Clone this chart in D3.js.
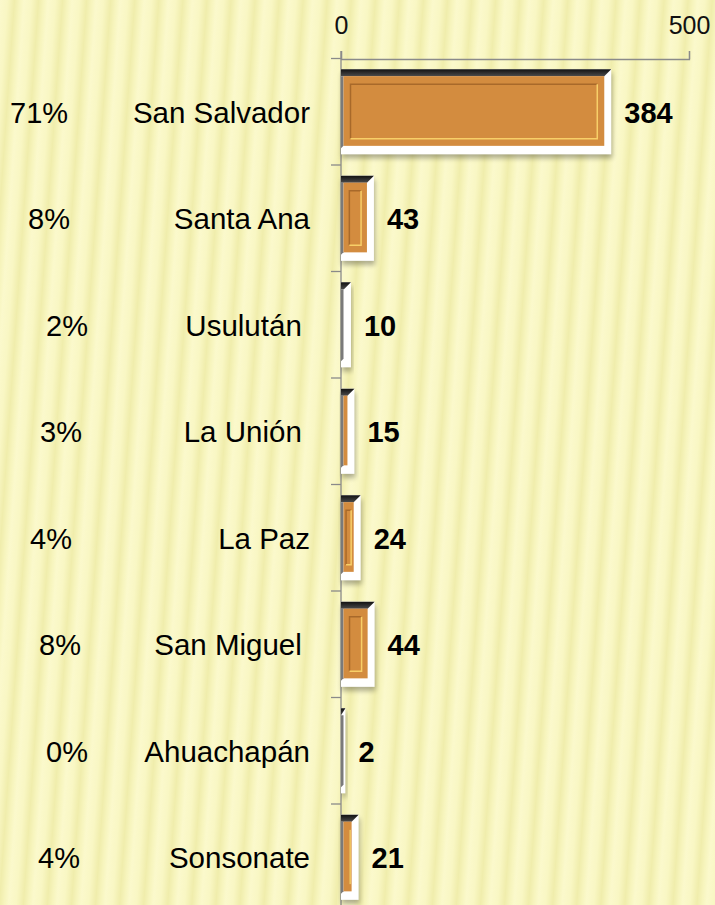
<!DOCTYPE html>
<html>
<head>
<meta charset="utf-8">
<script src="https://cdn.jsdelivr.net/npm/d3@7"></script>
<style>
  html, body { margin: 0; padding: 0; background: #f7f5bc; }
  svg { display: block; font-family: "Liberation Sans", Arial, sans-serif; }
  text { white-space: pre; }
</style>
</head>
<body>
<div id="chart"></div>
<script>
// departamentos, top to bottom
var categories = ["San Salvador", "Santa Ana", "Usulután ", "La Unión ", "La Paz", "San Miguel ", "Ahuachapán", "Sonsonate"];
var values = [384, 43, 10, 15, 24, 44, 2, 21];
var percents = ["71%", "8%", "2%", "3%", "4%", "8%", "0%", "4%"];
var xTicks = [0, 500];
// left edge of each percent label (they sit loose on the slide)
var pctX = [10, 28, 46, 40, 30, 39, 46, 38];

var W = 715, H = 905;

var svg = d3.select("#chart")
  .append("svg")
  .attr("width", W)
  .attr("height", H);

var defs = svg.append("defs");

// striped background
var grad = defs.append("linearGradient")
  .attr("id", "stripeGrad")
  .attr("x1", "0").attr("x2", "1").attr("y1", "0").attr("y2", "0");
grad.append("stop").attr("offset", "0%").attr("stop-color", "#fbf9cc");
grad.append("stop").attr("offset", "30%").attr("stop-color", "#f9f7c4");
grad.append("stop").attr("offset", "60%").attr("stop-color", "#f0edac");
grad.append("stop").attr("offset", "82%").attr("stop-color", "#f7f5be");
grad.append("stop").attr("offset", "100%").attr("stop-color", "#fbf9cc");

var pat = defs.append("pattern")
  .attr("id", "stripes")
  .attr("patternUnits", "userSpaceOnUse")
  .attr("width", 24).attr("height", 40)
  .attr("patternTransform", "rotate(4)");
pat.append("rect").attr("width", 24).attr("height", 40).attr("fill", "url(#stripeGrad)");

svg.append("rect")
  .attr("x", -50).attr("y", -50)
  .attr("width", W + 100).attr("height", H + 100)
  .attr("fill", "url(#stripes)");

var topGrad = defs.append("linearGradient")
  .attr("id", "topGrad").attr("x1", 0).attr("x2", 0).attr("y1", 0).attr("y2", 1);
topGrad.append("stop").attr("offset", "0%").attr("stop-color", "#111");
topGrad.append("stop").attr("offset", "100%").attr("stop-color", "#4a4a4a");

var shadow = defs.append("filter").attr("id", "shadow")
  .attr("x", "-20%").attr("y", "-20%").attr("width", "140%").attr("height", "150%");
shadow.append("feGaussianBlur").attr("stdDeviation", 2.5);

// scales
var x = d3.scaleLinear()
  .domain([0, 500])
  .range([341, 689]);

var y = d3.scaleBand()
  .domain(categories)
  .range([58.5, 910.5])
  .paddingInner(0.2)
  .paddingOuter(0.1);

var bw = y.bandwidth();

// x axis on top
var xAxis = svg.append("g")
  .attr("transform", "translate(0,59)")
  .call(d3.axisTop(x).tickValues(xTicks).tickSize(8).tickPadding(17));
xAxis.selectAll("path, line").attr("stroke", "#8a8a8a").attr("stroke-width", 1.3);
xAxis.selectAll("text")
  .attr("fill", "#111")
  .style("font-size", "25px")
  .style("font-family", "'Liberation Sans', Arial, sans-serif");

// y axis: line + ticks between bands
var yAxis = svg.append("g");
yAxis.append("line")
  .attr("x1", x(0)).attr("x2", x(0))
  .attr("y1", 51).attr("y2", H + 10)
  .attr("stroke", "#8a8a8a").attr("stroke-width", 1.3);
var bounds = categories.map(function(c) { return y(c) - y.step() * y.paddingInner() / 2; });
bounds.push(bounds[bounds.length - 1] + y.step());
yAxis.selectAll(".tk")
  .data(bounds)
  .enter()
  .append("line")
  .attr("x1", x(0) - 10).attr("x2", x(0))
  .attr("y1", function(d) { return d; })
  .attr("y2", function(d) { return d; })
  .attr("stroke", "#8a8a8a").attr("stroke-width", 1.3);

// bars
var data = categories.map(function(c, i) {
  return { cat: c, value: values[i], pct: percents[i], px: pctX[i] };
});

var bars = svg.selectAll(".bar")
  .data(data)
  .enter()
  .append("g")
  .attr("class", "bar");

bars.each(function(d) {
  var g = d3.select(this);
  var x0 = x(0), x1 = x(d.value) + 3;
  var y0 = y(d.cat), y1 = y0 + bw;
  var edge = 7, bot = 8.5, lft = 2.5;

  // drop shadow
  g.append("rect")
    .attr("x", x0 + 1).attr("y", y0 + 4)
    .attr("width", Math.max(x1 - x0, 1)).attr("height", bw)
    .attr("fill", "#000").attr("opacity", 0.3)
    .attr("filter", "url(#shadow)");

  // white bevel base
  g.append("rect")
    .attr("x", x0).attr("y", y0)
    .attr("width", x1 - x0).attr("height", bw)
    .attr("fill", "#ffffff");

  // dark top edge
  var te = Math.min(edge, x1 - x0);
  g.append("polygon")
    .attr("points", [[x0, y0], [x1, y0], [x1 - te, y0 + edge], [x0, y0 + edge]].join(" "))
    .attr("fill", "url(#topGrad)");

  // grey left edge
  g.append("polygon")
    .attr("points", [[x0, y0 + edge], [x0 + lft, y0 + edge], [x0 + lft, y1 - bot], [x0, y1 - bot + lft]].join(" "))
    .attr("fill", "#7a7a7a");

  // orange face
  var fw = x1 - edge - (x0 + lft);
  if (fw > 0.5) {
    g.append("rect")
      .attr("x", x0 + lft).attr("y", y0 + edge)
      .attr("width", fw).attr("height", bw - edge - bot)
      .attr("fill", "#d38c3f");
    if (fw > 4) {
      var ins = Math.min(7, fw / 4);
      var fx0 = x0 + lft + ins, fx1 = x1 - edge - ins;
      var fy0 = y0 + edge + 8, fy1 = y1 - bot - 7;
      if (fw <= 10) { fx0 = x1 - edge - 1.5; fx1 = fx0; }
      g.append("path")
        .attr("d", "M" + fx0 + "," + fy1 + "V" + fy0 + "H" + fx1)
        .attr("fill", "none").attr("stroke", "#a8692a").attr("stroke-width", 1.5);
      g.append("path")
        .attr("d", "M" + fx0 + "," + fy1 + "H" + fx1 + "V" + fy0)
        .attr("fill", "none").attr("stroke", "#f8cf68").attr("stroke-width", 1.5);
    }
  }
});

// value labels
bars.append("text")
  .attr("x", function(d) { return x(d.value) + 16; })
  .attr("y", function(d) { return y(d.cat) + bw / 2 + 11; })
  .attr("fill", "#000")
  .style("font-size", "29px")
  .style("font-weight", "bold")
  .text(function(d) { return d.value; });

// category labels
bars.append("text")
  .attr("x", 310)
  .attr("y", function(d) { return y(d.cat) + bw / 2 + 11; })
  .attr("text-anchor", "end")
  .attr("xml:space", "preserve")
  .attr("fill", "#000")
  .style("font-size", "29.5px")
  .text(function(d) { return d.cat; });

// percent labels
bars.append("text")
  .attr("x", function(d) { return d.px; })
  .attr("y", function(d) { return y(d.cat) + bw / 2 + 11; })
  .attr("fill", "#000")
  .style("font-size", "29px")
  .text(function(d) { return d.pct; });
</script>
</body>
</html>
